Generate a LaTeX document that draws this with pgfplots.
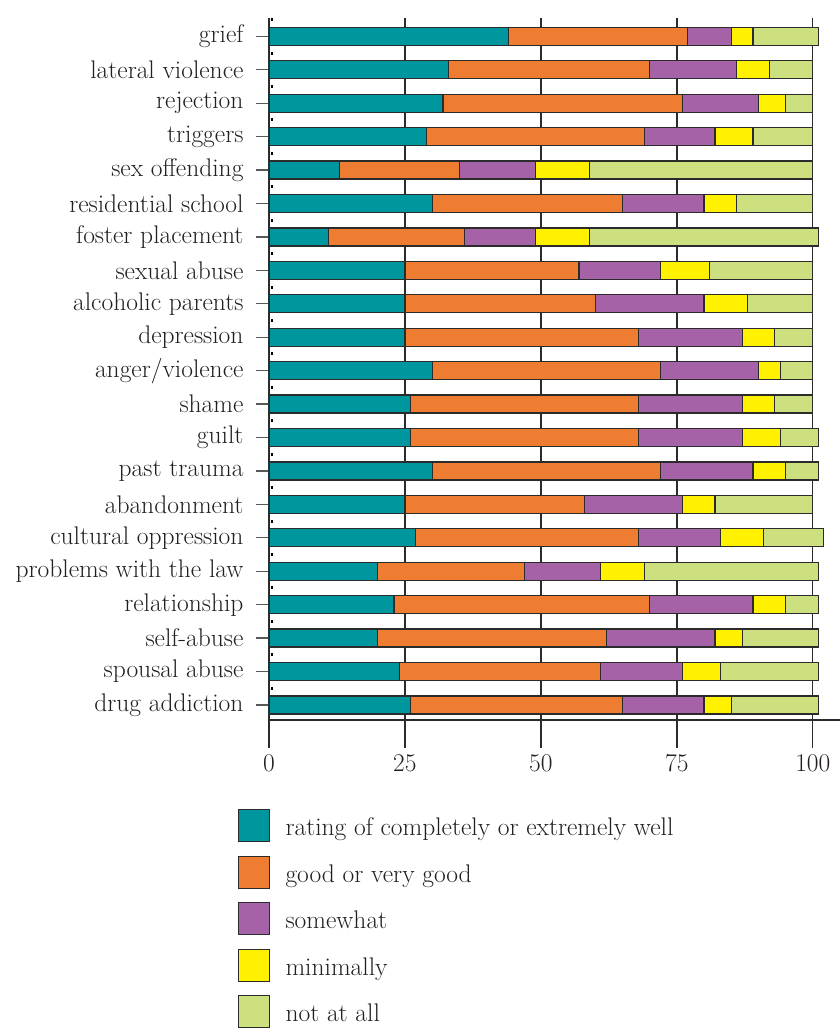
\documentclass[border=0pt]{standalone}
\usepackage{pgfplots}
\pgfplotsset{compat=1.18}
\usepackage{pgfplotstable}
\definecolor{cteal}{HTML}{00969E}
\definecolor{corange}{HTML}{EE7D31}
\definecolor{cpurple}{HTML}{A562A6}
\definecolor{cyellow}{HTML}{FFF100}
\definecolor{cgreen}{HTML}{CDE07F}
\definecolor{cline}{HTML}{2B2B2B}
\definecolor{ctext}{HTML}{231F20}
\pgfplotstableread{
y a b c d e
20 44 33 8 4 12
19 33 37 16 6 8
18 32 44 14 5 5
17 29 40 13 7 11
16 13 22 14 10 41
15 30 35 15 6 14
14 11 25 13 10 42
13 25 32 15 9 19
12 25 35 20 8 12
11 25 43 19 6 7
10 30 42 18 4 6
9 26 42 19 6 7
8 26 42 19 7 7
7 30 42 17 6 6
6 25 33 18 6 18
5 27 41 15 8 11
4 20 27 14 8 32
3 23 47 19 6 6
2 20 42 20 5 14
1 24 37 15 7 18
0 26 39 15 5 16
}\data
\begin{document}
\begin{tikzpicture}[x=1pt,y=1pt]
\path[use as bounding box] (0,0) rectangle (839,1028);
\begin{axis}[
  at={(269pt,308pt)}, anchor=south west,
  scale only axis, width=571pt, height=702pt,
  xmin=0, xmax=105, ymin=-0.45, ymax=20.55,
  xbar stacked, bar width=18pt,
  axis x line*=bottom, axis y line*=left,
  axis line style={cline, line width=1.3pt},
  xtick={0,25,50,75,100},
  ytick={0,...,20},
  yticklabels={drug addiction, spousal abuse, self-abuse, relationship, problems with the law, cultural oppression, abandonment, past trauma, guilt, shame, anger/violence, depression, alcoholic parents, sexual abuse, foster placement, residential school, sex offending, triggers, rejection, lateral violence, grief},
  minor ytick={0.5,1.5,...,20.5},
  tick align=outside,
  major tick length=28pt,
  minor tick length=2.5pt,
  x tick style={cline, line width=1.3pt},
  y tick style={gray!70!black, line width=1.3pt, dash pattern=on 0pt off 15pt on 13pt off 0pt},
  minor y tick style={black, line width=3pt, xshift=4.5pt, solid},
  yticklabel style={xshift=6pt},
  xticklabel style={yshift=-3pt},
  xmajorgrids, grid style={cline, line width=1.3pt},
  /pgf/number format/assume math mode=true,
  tick label style={font=\fontsize{25.5}{30}\selectfont, text=ctext},
  legend style={draw=none, fill=none, at={(-0.06,-0.1237)}, anchor=north west,
    font=\fontsize{25.5}{30}\selectfont, text=ctext, row sep=13.3pt, cells={anchor=west}},
  legend cell align=left,
  legend image code/.code={\draw[#1, line width=1.2pt] (0pt,-14pt) rectangle (31pt,18pt); \path[draw=none,fill=none] (31pt,-1pt) rectangle (45pt,1pt);},
]
\addplot[fill=cteal, draw=cline, line width=1.2pt] table[x=a,y=y]{\data};
\addplot[fill=corange, draw=cline, line width=1.2pt] table[x=b,y=y]{\data};
\addplot[fill=cpurple, draw=cline, line width=1.2pt] table[x=c,y=y]{\data};
\addplot[fill=cyellow, draw=cline, line width=1.2pt] table[x=d,y=y]{\data};
\addplot[fill=cgreen, draw=cline, line width=1.2pt] table[x=e,y=y]{\data};
\legend{rating of completely or extremely well, good or very good, somewhat, minimally, not at all}
\end{axis}
\end{tikzpicture}
\end{document}
